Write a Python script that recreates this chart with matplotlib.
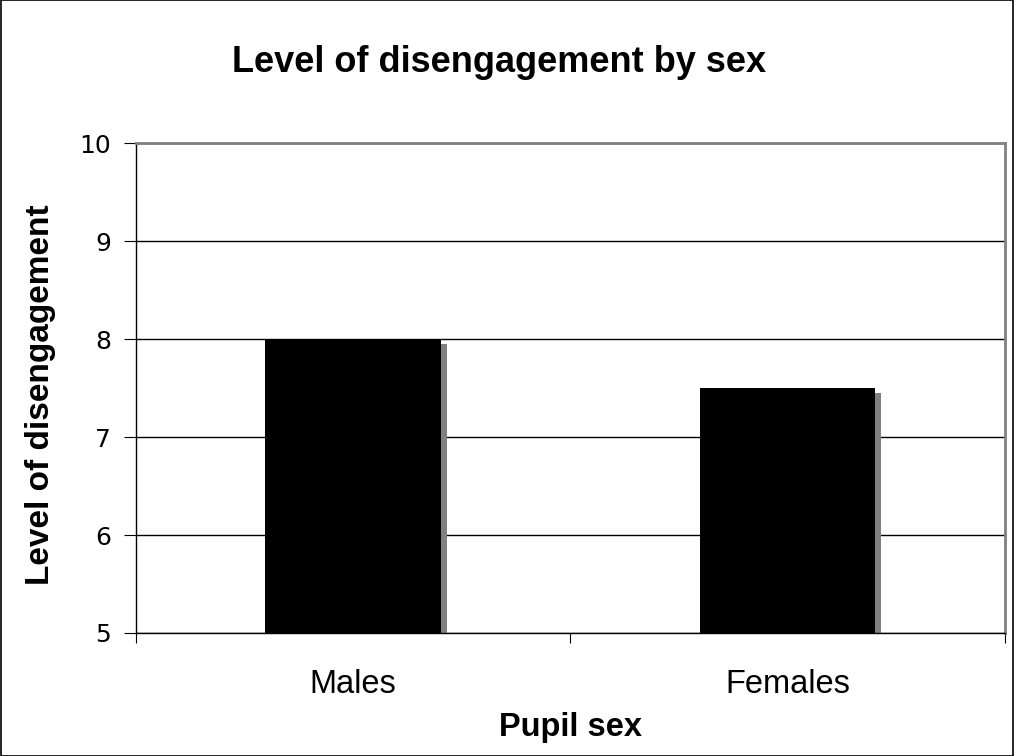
import matplotlib.pyplot as plt
from matplotlib.patches import Rectangle
import matplotlib.transforms as mtransforms

# data
categories = ["Males", "Females"]
values = [8.0, 7.5]
y_ticks = [5, 6, 7, 8, 9, 10]

fig = plt.figure(figsize=(10.14, 7.56), dpi=100)
ax = fig.add_axes([0.1341, 0.1627, 0.9911 - 0.1341, 0.8108 - 0.1627])

x = list(range(len(categories)))
bar_w = 0.404

# gray shadow offset right/down, like the excel 3d-ish look
shadow = mtransforms.offset_copy(ax.transData, fig=fig, x=6, y=-5, units='dots')
for xi, v in zip(x, values):
    r = Rectangle((xi - bar_w / 2, 5), bar_w, v - 5, facecolor='#808080',
                  edgecolor='none', transform=shadow, zorder=2, clip_on=True)
    r.set_clip_path(ax.patch)
    ax.add_patch(r)

ax.bar(x, [v - 5 for v in values], bottom=5, width=bar_w, color='black', zorder=3)

ax.set_xlim(-0.5, 1.5)
ax.set_ylim(5, 10)
ax.set_yticks(y_ticks)
ax.set_yticklabels([str(t) for t in y_ticks], fontsize=18, family='DejaVu Sans')
ax.yaxis.grid(True, color='black', linewidth=1)
ax.set_axisbelow(True)

# category labels between boundary ticks
ax.set_xticks([-0.5, 0.5, 1.5])
ax.set_xticklabels([])
ax.set_xticks(x, minor=True)
ax.set_xticklabels(categories, minor=True, fontsize=23.5, family='Liberation Sans')
ax.tick_params(axis='x', which='minor', length=0, pad=26)
ax.tick_params(axis='x', which='major', length=7, direction='out', color='black')
ax.tick_params(axis='y', length=9, direction='out', color='black', pad=9)

for s in ['top', 'right']:
    ax.spines[s].set_color('#808080')
    ax.spines[s].set_linewidth(2)
for s in ['left', 'bottom']:
    ax.spines[s].set_color('black')
    ax.spines[s].set_linewidth(1)

ax.set_xlabel("Pupil sex", fontsize=23.5, fontweight='bold', family='Liberation Sans')
ax.xaxis.set_label_coords(0.5, (633 - 728) / 490, transform=ax.transAxes)
ax.xaxis.label.set_va('center')
ax.set_ylabel("Level of disengagement", fontsize=24, fontweight='bold', family='Liberation Sans')
ax.yaxis.set_label_coords((41 - 136) / 869, (633 - 395) / 490)
ax.yaxis.label.set_va('center')
fig.text(499 / 1014, 1 - 62 / 756, "Level of disengagement by sex", ha='center', va='center',
         fontsize=26, fontweight='bold', family='Liberation Sans')

# outer chart border
fig.patches.append(Rectangle((0.0005, 0.0005), 0.999, 0.999, transform=fig.transFigure,
                             fill=False, edgecolor='black', linewidth=1.2))

fig.savefig("out.png", dpi=100)
